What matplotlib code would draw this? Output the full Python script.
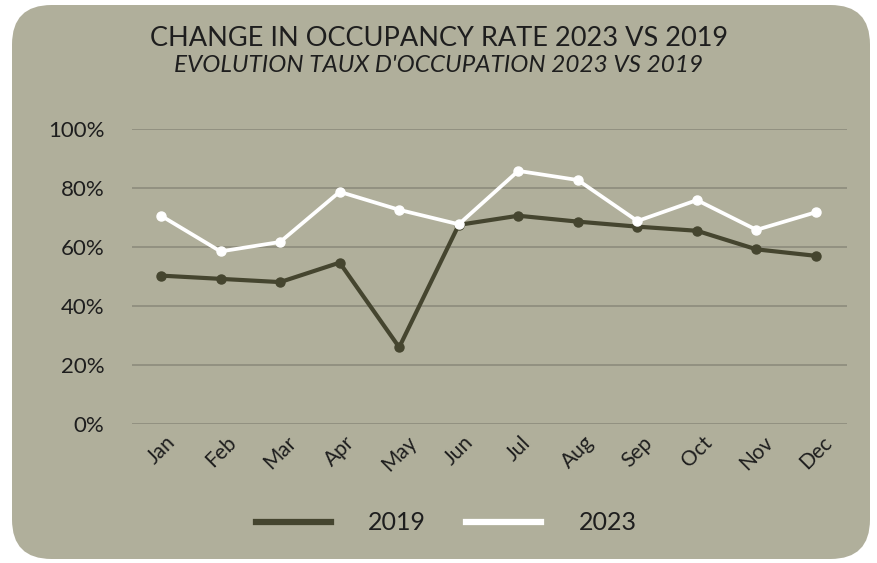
import matplotlib
matplotlib.use("Agg")
import matplotlib.pyplot as plt
from matplotlib.patches import FancyBboxPatch
from matplotlib.lines import Line2D
import numpy as np

months = ["Jan", "Feb", "Mar", "Apr", "May", "Jun",
          "Jul", "Aug", "Sep", "Oct", "Nov", "Dec"]
rate_2019 = [50.3, 49.2, 48.1, 54.7, 26.0, 67.5, 70.6, 68.6, 66.9, 65.5, 59.2, 57.0]
rate_2023 = [70.6, 58.5, 61.7, 78.7, 72.6, 67.7, 85.8, 82.7, 68.8, 75.9, 65.8, 71.8]
y_ticks = [0, 20, 40, 60, 80, 100]

BG = "#b0af9b"
DARK = "#45452f"
TEXT = "#1e1e1e"
GRID = "#8c8b7c"
FONT = ["Lato", "DejaVu Sans"]

W, H = 878, 563
fig = plt.figure(figsize=(W / 100, H / 100), dpi=100)
fig.patch.set_facecolor("white")

# rounded panel behind everything
panel = FancyBboxPatch((12 / W, 4 / H), 858 / W, 554 / H,
                       boxstyle="round,pad=0,rounding_size=0.045",
                       transform=fig.transFigure, facecolor=BG,
                       edgecolor="none", mutation_aspect=W / H, zorder=-10)
fig.patches.append(panel)

ax = fig.add_axes([132 / W, 1 - 424 / H, (847 - 132) / W, 295 / H])
ax.set_facecolor("none")
x = np.arange(len(months))

ax.plot(x, rate_2019, color=DARK, lw=3.0, marker="o", ms=6.5, clip_on=False, zorder=3)
ax.plot(x, rate_2023, color="white", lw=2.7, marker="o", ms=6.5, clip_on=False, zorder=4)

ax.set_xlim(-0.487, 11.52)
ax.set_ylim(0, 100)
ax.set_yticks(y_ticks)
ax.set_yticklabels([f"{v}%" for v in y_ticks], fontsize=16, color=TEXT, family=FONT)
ax.set_xticks(x)
ax.set_xticklabels(months, rotation=45, ha="center", fontsize=15, color=TEXT,
                   family=FONT)
ax.tick_params(axis="both", length=0)
ax.tick_params(axis="y", pad=20)
ax.tick_params(axis="x", pad=6)
for s in ax.spines.values():
    s.set_visible(False)
ax.yaxis.grid(True, color=GRID, lw=1.2)
ax.set_axisbelow(True)

fig.text(0.5, 1 - 38 / H, "CHANGE IN OCCUPANCY RATE 2023 VS 2019",
         ha="center", va="center", fontsize=19.5, color=TEXT, family=FONT)
fig.text(0.5, 1 - 66 / H, "EVOLUTION TAUX D'OCCUPATION 2023 VS 2019",
         ha="center", va="center", fontsize=17.5, style="italic", color=TEXT,
         family=FONT)

handles = [Line2D([], [], color=DARK, lw=4.5), Line2D([], [], color="white", lw=4.5)]
leg = fig.legend(handles, ["2019", "2023"], loc="center",
                 bbox_to_anchor=(0.508, 1 - 523 / H),
                 ncol=2, frameon=False, handlelength=3.0, columnspacing=1.6,
                 handletextpad=1.5, prop={"family": FONT, "size": 18})
for t in leg.get_texts():
    t.set_color(TEXT)

fig.savefig("out.png", dpi=100, facecolor=fig.get_facecolor())
